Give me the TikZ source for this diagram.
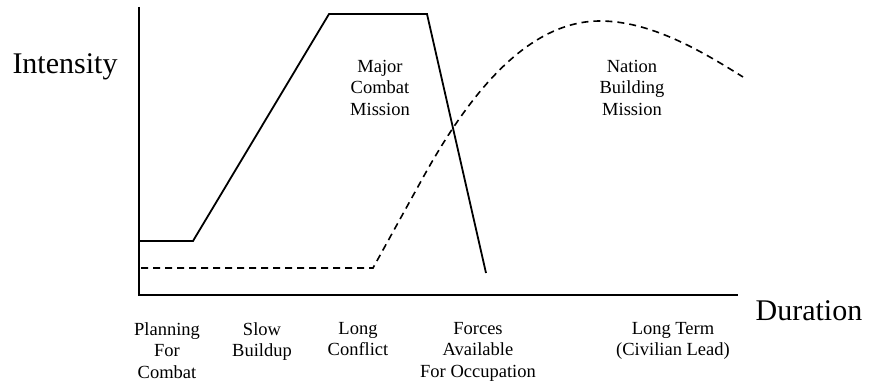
\documentclass[tikz,border=0pt]{standalone}
\usepackage{fontspec}
\setmainfont{Liberation Serif}
\usepackage{tikz}

\begin{document}
\begin{tikzpicture}[x=1pt,y=-1pt,
    axis/.style={line width=2pt},
    combat/.style={line width=1.8pt, line join=miter},
    building/.style={line width=1.6pt, dash pattern=on 7pt off 5pt},
    big/.style={font=\fontsize{30}{34}\selectfont},
    lbl/.style={font=\fontsize{18.5}{21.5}\selectfont, align=center, inner sep=0pt, anchor=north}]
      \useasboundingbox (0,0) rectangle (871,385);

      % axes
      \coordinate (O) at (139,295);
      \coordinate (ytop) at (139,7);
      \coordinate (xend) at (738,295);
      \draw[axis] (ytop) -- (O) -- (xend);
      \node (intensity) at (65,67) [big] {Intensity};
      \node (duration) at (809,311) [big] {Duration};

      % major combat mission
      \coordinate (c0) at (139,241);
      \coordinate (c1) at (193,241);
      \coordinate (c2) at (329,14);
      \coordinate (c3) at (427,14);
      \coordinate (c4) at (486,273);
      \draw[combat] (c0) -- (c1) -- (c2) -- (c3) -- (c4);
      \node (major) at (380,60) [lbl] {Major\\Combat\\Mission};

      % nation building mission
      \coordinate (n0) at (141,268);
      \coordinate (n1) at (373,268);
      \coordinate (n2) at (420,183);
      \coordinate (n3) at (600,21);
      \coordinate (n4) at (743,77);
      \draw[building] (n0) -- (n1) -- (n2)
      .. controls (460,110) and (520,21) .. (n3)
      .. controls (650,21) and (700,50) .. (n4);
      \node (nation) at (632,60) [lbl] {Nation\\Building\\Mission};

      % phases
      \node (planning) at (167,322) [lbl] {Planning\\For\\Combat};
      \node (slow) at (262,322) [lbl] {Slow\\Buildup};
      \node (long) at (358,322) [lbl] {Long\\Conflict};
      \node (forces) at (478,322) [lbl] {Forces\\Available\\For Occupation};
      \node (term) at (673,322) [lbl] {Long Term\\(Civilian Lead)};
\end{tikzpicture}
\end{document}
